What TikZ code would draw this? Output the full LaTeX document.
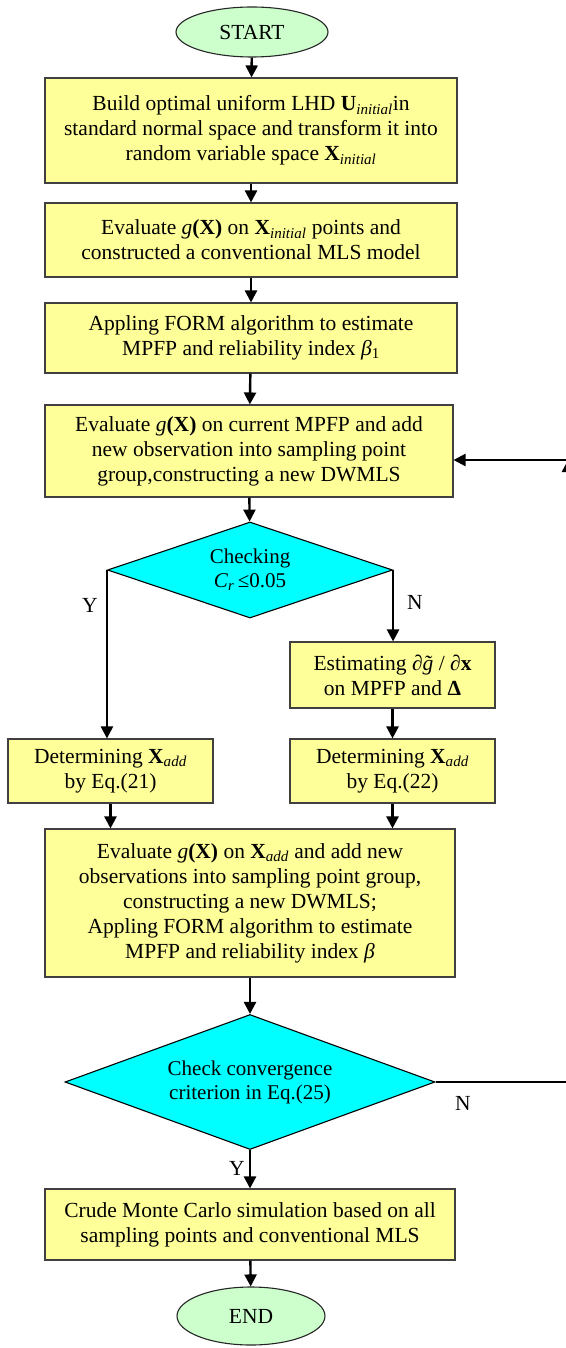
\documentclass[tikz,border=0pt]{standalone}
\usepackage{fontspec}
\setmainfont{Liberation Serif}
\usepackage{tikz}
\usetikzlibrary{arrows.meta,shapes.geometric}
\definecolor{boxyellow}{RGB}{255,255,153}
\definecolor{termgreen}{RGB}{204,255,204}
\definecolor{testcyan}{RGB}{0,255,255}
\tikzset{every picture/.style={line width=2.4pt}}
\tikzset{proc/.style={draw=black!75, line width=1.1pt, fill=boxyellow, rectangle, inner sep=0pt, align=center, font=\fontsize{21.5}{25}\selectfont}}
\tikzset{term/.style={draw=black!85, line width=1.1pt, fill=termgreen, ellipse, inner sep=0pt, font=\fontsize{21.5}{25}\selectfont}}
\tikzset{test/.style={draw=black, line width=1.1pt, fill=testcyan, diamond, inner sep=0pt, align=center, font=\fontsize{21}{24}\selectfont}}
\tikzset{lab/.style={font=\fontsize{21.5}{25}\selectfont}}
\tikzset{flow/.style={-{Triangle[width=12pt,length=12pt]}}}
\newcommand{\gX}{\textit{g}\textbf{(X)}}
\newcommand{\Xsub}[1]{\textbf{X}\textsubscript{\textit{#1}}}
\newcommand{\gtil}{\ooalign{\textit{g}\cr\hidewidth\textit{˜}\hidewidth\cr}}

\begin{document}
\begin{tikzpicture}[x=1pt,y=-1pt]
\useasboundingbox (0,0) rectangle (565,1348);
\node[term, minimum width=152pt, minimum height=50pt] (s) at (252,32) {START};
\node[proc, minimum width=412pt, minimum height=105pt] (1) at (251,130.5) {Build optimal uniform LHD \textbf{U}\textsubscript{\textit{initial}}in\\ standard normal space and transform it into\\ random variable space \Xsub{initial}};
\node[proc, minimum width=412pt, minimum height=74pt] (2) at (251,240) {Evaluate \gX{} on \Xsub{initial} points and\\ constructed a conventional MLS model};
\node[proc, minimum width=412pt, minimum height=70pt] (3) at (251,338) {Appling FORM algorithm to estimate\\ MPFP and reliability index \textit{β}\textsubscript{1}};
\node[proc, minimum width=408pt, minimum height=92pt] (4) at (249,451) {Evaluate \gX{} on current MPFP and add\\ new observation into sampling point\\ group,constructing a new DWMLS};
\node[test, aspect=2.97, minimum width=285pt, minimum height=96pt] (d1) at (250,570) {Checking\\ \textit{C}\textsubscript{\textit{r}}\,≤0.05};
\node[proc, minimum width=205pt, minimum height=66pt] (6) at (392.5,675) {Estimating \textit{∂}\gtil{} / \textit{∂}\textbf{x}\\ on MPFP and \textbf{Δ}};
\node[proc, minimum width=205pt, minimum height=64pt] (5) at (110.5,771) {Determining \Xsub{add}\\ by Eq.(21)};
\node[proc, minimum width=205pt, minimum height=64pt] (7) at (392.5,771) {Determining \Xsub{add}\\ by Eq.(22)};
\node[proc, minimum width=410pt, minimum height=148pt] (8) at (250,903) {Evaluate \gX{} on \Xsub{add} and add new\\ observations into sampling point group,\\ constructing a new DWMLS;\\ Appling FORM algorithm to estimate\\ MPFP and reliability index \textit{β}};
\node[test, aspect=2.74, minimum width=370pt, minimum height=135pt] (d2) at (250,1082) {Check convergence\\ criterion in Eq.(25)};
\node[proc, minimum width=410pt, minimum height=71pt] (9) at (250,1224.5) {Crude Monte Carlo simulation based on all\\ sampling points and conventional MLS};
\node[term, minimum width=148pt, minimum height=58pt] (e) at (251,1316) {END};
\node[lab] (y1) at (90,605) {Y};
\node[lab] (n1) at (415,602) {N};
\node[lab] (n2) at (463,1103) {N};
\node[lab] (y2) at (237,1168) {Y};
\coordinate (r1) at (568,1082);
\coordinate (r2) at (568,460);
\draw[flow] (s) -- (1);
\draw[flow] (1) -- (2);
\draw[flow] (2) -- (3);
\draw[flow] (3) -- (4);
\draw[flow] (4) -- (d1);
\draw[flow] (d1.west) -- (d1.west |- 5.north);
\draw[flow] (d1.east) -- (d1.east |- 6.north);
\draw[flow] (6) -- (7);
\draw[flow] (5) -- (5 |- 8.north);
\draw[flow] (7) -- (7 |- 8.north);
\draw[flow] (8) -- (d2);
\draw[flow] (d2) -- (9);
\draw[flow] (9) -- (e);
\draw[flow] (d2.east) -- (r1) -- (r2);
\draw[flow] (r2) -- (4.east |- r2);
\end{tikzpicture}
\end{document}
